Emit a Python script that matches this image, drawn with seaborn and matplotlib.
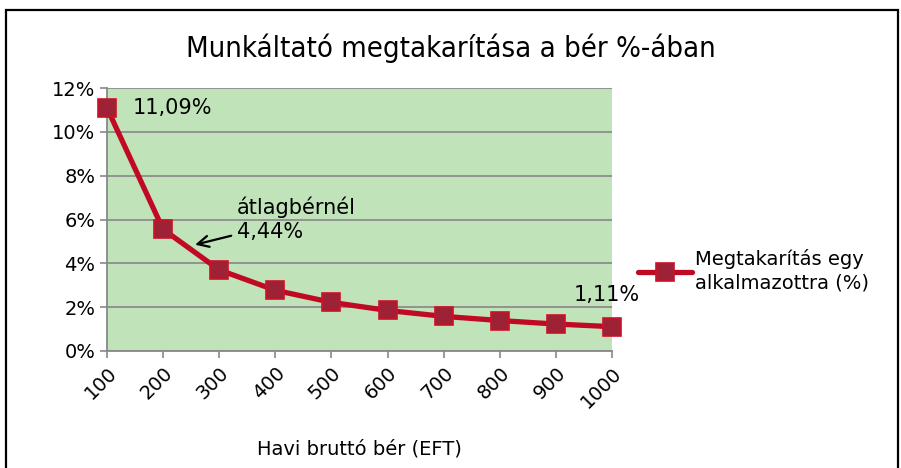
import matplotlib
matplotlib.use("Agg")
import matplotlib.pyplot as plt
from matplotlib.patches import Rectangle
from matplotlib.ticker import FuncFormatter
import seaborn as sns
import pandas as pd

# data
wages = [100, 200, 300, 400, 500, 600, 700, 800, 900, 1000]
savings = [11.09, 5.55, 3.70, 2.77, 2.22, 1.85, 1.58, 1.39, 1.23, 1.11]
series_name = "Megtakarítás egy\nalkalmazottra (%)"

df = pd.DataFrame({"wage": wages, "saving": savings})

sns.set_style("white")
plt.rcParams["font.family"] = ["DejaVu Sans"]
plt.rcParams["text.color"] = "black"
plt.rcParams["axes.labelcolor"] = "black"
plt.rcParams["xtick.labelcolor"] = "black"
plt.rcParams["ytick.labelcolor"] = "black"

fig = plt.figure(figsize=(9.01, 4.68), dpi=100)
ax = fig.add_axes([107 / 901, 1 - 351 / 468, (612 - 107) / 901, (351 - 88) / 468])
ax.set_facecolor("#C0E3B9")

sns.lineplot(data=df, x="wage", y="saving", ax=ax, color="#C00A24", linewidth=3.8,
             marker="s", markersize=13.5, markerfacecolor="#9E2236",
             markeredgecolor="#D01028", markeredgewidth=1.2,
             label=series_name, clip_on=False, zorder=5)

ax.set_xlim(100, 1000)
ax.set_ylim(0, 12)
ax.set_xticks(wages)
ax.set_xticklabels([str(w) for w in wages], rotation=45, ha="right",
                   rotation_mode="anchor", fontsize=14)
ax.set_yticks(range(0, 13, 2))
ax.yaxis.set_major_formatter(FuncFormatter(lambda v, p: f"{int(v)}%"))
ax.tick_params(axis="y", labelsize=14, length=5, color="#888888", width=1.2, left=True)
ax.tick_params(axis="x", length=5, color="#888888", width=1.2, bottom=True, pad=4)
ax.grid(axis="y", color="#8C8C8C", linewidth=1.3)
ax.set_axisbelow(True)
for side in ["top", "right"]:
    ax.spines[side].set_visible(False)
for side in ["left", "bottom"]:
    ax.spines[side].set_color("#888888")
    ax.spines[side].set_linewidth(1.3)

ax.set_xlabel("Havi bruttó bér (EFT)", fontsize=14, labelpad=20)
ax.set_ylabel("")
fig.text(0.5, 1 - 48 / 468, "Munkáltató megtakarítása a bér %-ában",
         ha="center", va="center", fontsize=21, fontstretch="condensed")

# data labels
ax.text(146, savings[0], "11,09%", fontsize=15, va="center", ha="left")
ax.text(990, 2.1, "1,11%", fontsize=15, va="bottom", ha="center")
ax.annotate("átlagbérnél\n4,44%", xy=(257, 4.85), xytext=(332, 6.0),
            fontsize=15, va="center", ha="left", linespacing=1.25,
            arrowprops=dict(arrowstyle="->", color="black", lw=1.6,
                            mutation_scale=20, shrinkA=2, shrinkB=0))

leg = ax.legend(loc="center left", bbox_to_anchor=(620 / 901, 1 - 271 / 468),
                bbox_transform=fig.transFigure, frameon=False, fontsize=14,
                handlelength=2.8, handletextpad=0.15, labelspacing=0.2)
for t in leg.get_texts():
    t.set_linespacing(1.3)

# outer chart border
fig.patches.append(Rectangle((6 / 901, -0.05), 892 / 901, 1.05 - 10 / 468,
                             transform=fig.transFigure, fill=False,
                             edgecolor="black", linewidth=1.6))

fig.savefig("out.png", dpi=100)
